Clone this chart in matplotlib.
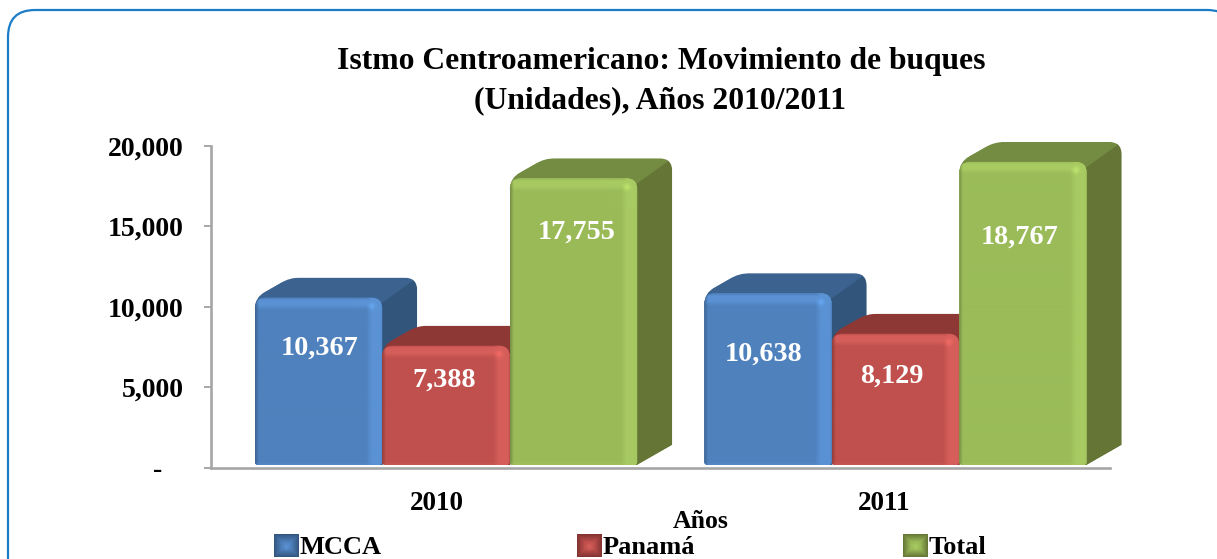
import matplotlib
matplotlib.use("Agg")
import matplotlib.pyplot as plt
import numpy as np
from matplotlib.colors import to_rgb
from matplotlib.patches import FancyBboxPatch, Polygon
from matplotlib.path import Path

# data
years = ["2010", "2011"]
series = ["MCCA", "Panamá", "Total"]
mcca = [10367, 10638]
panama = [7388, 8129]
total = [17755, 18767]
y_ticks = [0, 5000, 10000, 15000, 20000]
y_tick_labels = ["-   ", "5,000", "10,000", "15,000", "20,000"]

# style: front, top, side, highlight
colors = {
    "MCCA": ("#4F81BD", "#3C6390", "#32557C", "#5A92D4"),
    "Panamá": ("#C0504D", "#8E3836", "#7F3230", "#D65E5A"),
    "Total": ("#9BBB59", "#748C42", "#647536", "#A8CA62"),
}
# label centres in pixels, the original chart has them placed by hand
label_xy = {
    "MCCA": [(320, 348), (764, 354)],
    "Panamá": [(444, 380), (892, 376)],
    "Total": [(577, 232), (1020, 237)],
}

W, H = 1217, 559
plt.rcParams["font.family"] = ["Liberation Serif", "DejaVu Serif"]
plt.rcParams["font.weight"] = "bold"

fig = plt.figure(figsize=(W / 100, H / 100), dpi=100, facecolor="white")


def axes_px(x0, x1, y_top, y_bottom, **kw):
    return fig.add_axes([x0 / W, 1 - y_bottom / H, (x1 - x0) / W, (y_bottom - y_top) / H], **kw)


# background layer in pixel coordinates: frame, legend, free texts
ax_bg = fig.add_axes([0, 0, 1, 1], zorder=0)
ax_bg.set_xlim(0, W)
ax_bg.set_ylim(H, 0)
ax_bg.axis("off")
ax_bg.add_patch(FancyBboxPatch((8, 10), 1226, 600, boxstyle="round,pad=0,rounding_size=27",
                               fc="white", ec="#1B7CC8", lw=1.6, clip_on=True))

# axis layer
ax = axes_px(210.5, 1110, 146, 467.5, zorder=1)
ax.patch.set_visible(False)
ax.set_xlim(0, 1)
ax.set_ylim(0, 20000)
ax.set_xticks([])
ax.set_yticks(y_ticks, y_tick_labels, fontsize=20)
ax.tick_params(axis="y", length=5, width=1.3, color="#A0A0A0", pad=14.5)
for s in ["top", "right"]:
    ax.spines[s].set_visible(False)
for s in ["left", "bottom"]:
    ax.spines[s].set_color("#A6A6A6")
    ax.spines[s].set_linewidth(1.9)

# bars layer, front faces run 0 -> 465 px, 20000 -> 142 px
CAT_PX = 449.5
X0 = 446.0
BAR_PX = 127.5
ax_b = axes_px(0, W, 142, 465, zorder=2)
ax_b.patch.set_visible(False)
ax_b.axis("off")
ax_b.set_xlim((0 - X0) / CAT_PX, (W - X0) / CAT_PX)
ax_b.set_ylim(0, 20000)
px_x = 1 / CAT_PX
px_y = 20000 / 323
DX, DY = 35, 20


def rounded_path(x0, x1, y1, rt=11, rb=3):
    rx, ry = rt * px_x, rt * px_y
    bx, by = rb * px_x, rb * px_y
    verts = [(x0 + bx, 0), (x1 - bx, 0), (x1, 0), (x1, by), (x1, y1 - ry), (x1, y1), (x1 - rx, y1),
             (x0 + rx, y1), (x0, y1), (x0, y1 - ry), (x0, by), (x0, 0), (x0 + bx, 0), (x0 + bx, 0)]
    codes = [Path.MOVETO, Path.LINETO, Path.CURVE3, Path.CURVE3, Path.LINETO, Path.CURVE3, Path.CURVE3,
             Path.LINETO, Path.CURVE3, Path.CURVE3, Path.LINETO, Path.CURVE3, Path.CURVE3, Path.CLOSEPOLY]
    return Path(verts, codes)


def silhouette_path(x0, x1, v):
    """outline of top and side faces together, all upper corners rounded"""
    ox, oy = DX * px_x, DY * px_y
    rx, ry = 13 * px_x, 13 * px_y
    verts = [(x0, v - 11 * px_y), (x0, v), (x0 + ox * 0.3, v + oy * 0.3),
             (x0 + ox * 0.72, v + oy * 0.72), (x0 + ox, v + oy), (x0 + ox + rx * 0.8, v + oy),
             (x1 + ox - rx, v + oy), (x1 + ox, v + oy), (x1 + ox, v + oy - ry),
             (x1 + ox, oy), (x1, 0), (x0, 0), (x0, v - 11 * px_y)]
    codes = [Path.MOVETO, Path.CURVE3, Path.CURVE3,
             Path.LINETO, Path.CURVE3, Path.CURVE3,
             Path.LINETO, Path.CURVE3, Path.CURVE3,
             Path.LINETO, Path.LINETO, Path.LINETO, Path.CLOSEPOLY]
    return Path(verts, codes)


def shade_face(front, hi, w, h):
    """front face with bevelled edges, light on top and right, dark on left"""
    w, h = int(round(w)), int(round(h))
    xx, yy = np.meshgrid(np.arange(w) + 0.5, np.arange(h) + 0.5)
    base, light = np.array(to_rgb(front)), np.array(to_rgb(hi))
    dark = base * 0.75
    img = np.ones((h, w, 3)) * base
    top = (np.clip((yy - 1) / 2, 0, 1) * np.clip((13 - yy) / 5, 0, 1))[..., None]
    right = (np.clip((xx - (w - 17)) / 6, 0, 1) * np.clip((w - xx) / 2, 0.35, 1))[..., None]
    left = np.clip(1 - xx / 4, 0, 1)[..., None]
    bottom = np.clip(1 - (h - yy) / 3, 0, 1)[..., None]
    edge = np.maximum(top, right)
    img = img * (1 - edge) + light * edge
    img = img * (1 - left) + dark * left
    img = img * (1 - bottom * 0.4) + light * bottom * 0.4
    # small glint where the top and right bevels meet
    glint = np.exp(-(((xx - (w - 11)) / 3.5) ** 2 + ((yy - 9) / 3.5) ** 2))[..., None]
    img = img * (1 - glint) + np.minimum(light * 1.12, 1) * glint
    return img


width = BAR_PX / CAT_PX
offsets = [-width, 0, width]
values = [mcca, panama, total]
for k, (name, vals) in enumerate(zip(series, values)):
    front, top_c, side_c, hi = colors[name]
    z = 3 + k
    xs = np.arange(len(years)) + offsets[k]
    bars = ax_b.bar(xs, vals, width=width, color=front, zorder=z + 0.2)
    for bar in bars:
        x0, x1 = bar.get_x(), bar.get_x() + bar.get_width()
        v = bar.get_height()
        ox, oy = DX * px_x, DY * px_y
        outline = silhouette_path(x0, x1, v)
        side = Polygon([(x1 - 8 * px_x, 0), (x1, 0), (x1 + ox, oy), (x1 + ox, v + oy), (x1 - 8 * px_x, v)],
                       fc=side_c, ec="none", zorder=z)
        top = Polygon([(x0, v - 12 * px_y), (x0, v), (x0 + ox, v + oy), (x1 + ox, v + oy), (x1 - 4 * px_x, v - 8 * px_y)],
                      fc=top_c, ec="none", zorder=z + 0.1)
        ax_b.add_patch(side)
        ax_b.add_patch(top)
        side.set_clip_path(outline, ax_b.transData)
        top.set_clip_path(outline, ax_b.transData)
        clip = rounded_path(x0, x1, v)
        bar.set_clip_path(clip, ax_b.transData)
        im = ax_b.imshow(shade_face(front, hi, bar.get_width() / px_x, v / px_y),
                         extent=(x0, x1, 0, v), origin="upper", aspect="auto",
                         interpolation="bilinear", zorder=z + 0.3)
        im.set_clip_path(clip, ax_b.transData)
    for (lx, ly), v in zip(label_xy[name], vals):
        ax_b.text(lx, ly, f"{v:,}", transform=ax_bg.transData, color="white", fontsize=20.3,
                  ha="center", va="center", zorder=20)
ax_b.set_xlim((0 - X0) / CAT_PX, (W - X0) / CAT_PX)
ax_b.set_ylim(0, 20000)

# texts
ax_bg.text(661, 62, "Istmo Centroamericano: Movimiento de buques", fontsize=22.8, ha="center", va="center")
ax_bg.text(660, 101, "(Unidades), Años 2010/2011", fontsize=22.8, ha="center", va="center")
for x, label in zip([437, 884], years):
    ax_bg.text(x, 503, label, fontsize=19.5, ha="center", va="center")
ax_bg.text(701, 521, "Años", fontsize=18.5, ha="center", va="center")

# legend
legend_x = [274, 577, 903]
for x, name in zip(legend_x, series):
    front, top_c, side_c, hi = colors[name]
    n = 25
    xx, yy = np.meshgrid(np.arange(n) + 0.5, np.arange(n - 2) + 0.5)
    d = np.minimum.reduce([xx, n - xx, yy, n - 2 - yy])
    t = np.clip(d / 8, 0, 1)[..., None]
    img = np.array(to_rgb(side_c)) * (1 - t) + np.array(to_rgb(front)) * t
    glint = np.exp(-(((xx - n / 2) / 3) ** 2 + ((yy - n / 2) / 3) ** 2))[..., None]
    img = img * (1 - glint) + np.array(to_rgb(hi)) * glint
    im = ax_bg.imshow(img, extent=(x, x + n, 557, 534), aspect="auto", interpolation="bilinear", zorder=2)
    ax_bg.text(x + n + 1, 548, name, fontsize=19, ha="left", va="center", zorder=3)
ax_bg.set_xlim(0, W)
ax_bg.set_ylim(H, 0)

fig.savefig("out.png", dpi=100)
